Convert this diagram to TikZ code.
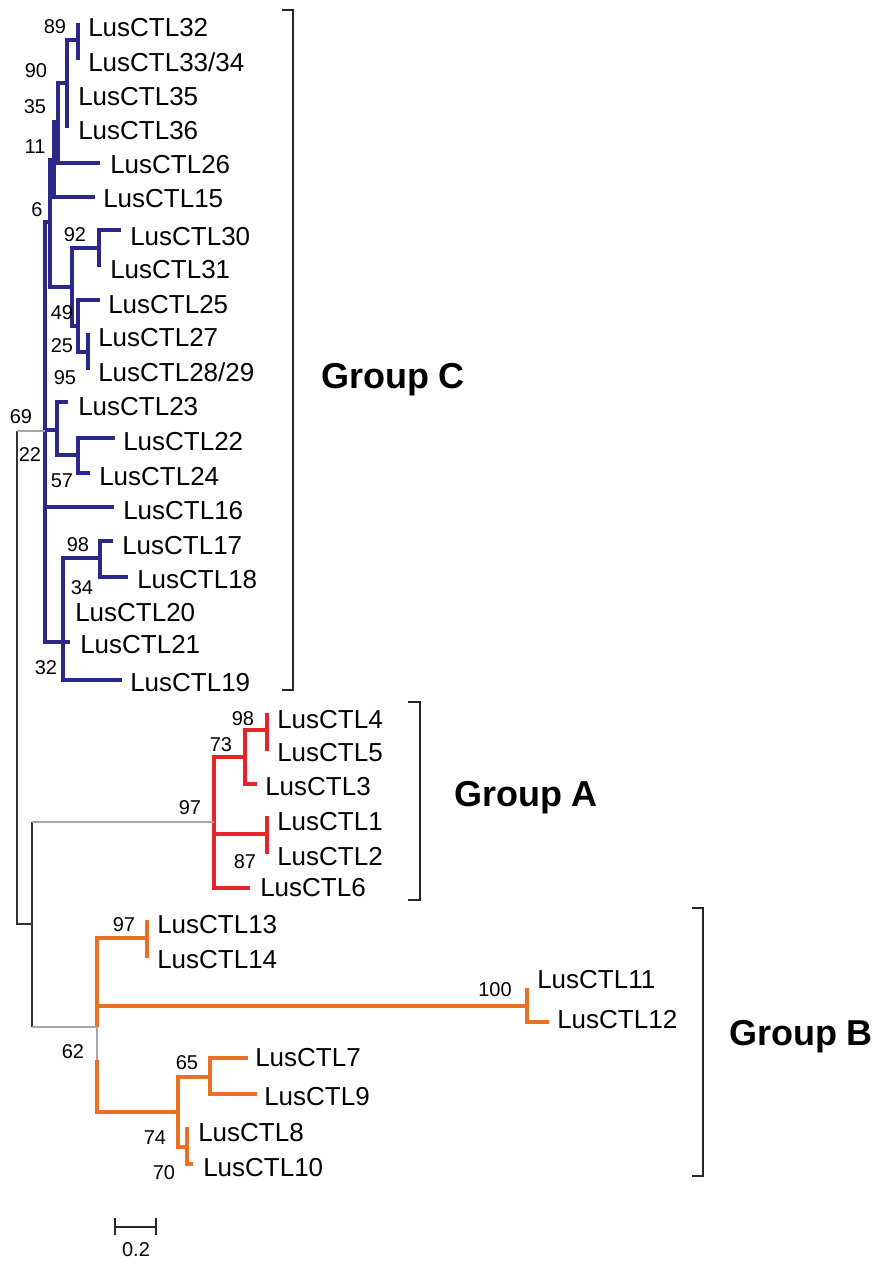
\documentclass[tikz,border=0pt]{standalone}
\usepackage{fontspec}
\setmainfont{Liberation Sans}
\usepackage{tikz}

\definecolor{grpC}{RGB}{42,40,136}
\definecolor{grpA}{RGB}{228,38,42}
\definecolor{grpB}{RGB}{236,112,36}

\begin{document}
\begin{tikzpicture}[x=0.75pt, y=-0.75pt,
    cbr/.style={draw=grpC, line width=3pt},
    abr/.style={draw=grpA, line width=3pt},
    bbr/.style={draw=grpB, line width=3pt},
    rootbr/.style={draw=black!80, line width=2pt},
    greybr/.style={draw=black!35, line width=1.1pt},
    brk/.style={draw=black!85, line width=1.8pt},
    leaf/.style={anchor=west, inner sep=0pt, font=\fontsize{19.5}{20}\selectfont},
    boot/.style={inner sep=0pt, font=\fontsize{15}{16}\selectfont},
    grp/.style={font=\fontsize{27}{30}\selectfont\bfseries}]
    \useasboundingbox (0,0) rectangle (877,1265);

    % Group C
    \coordinate (t32) at (78,23);   \coordinate (t33) at (78,60);   \coordinate (n89) at (78,40);
    \coordinate (n90) at (67,83);   \coordinate (t36) at (67,128);
    \coordinate (nB) at (58,122);   \coordinate (t26) at (100,163);
    \coordinate (nC) at (54,160);   \coordinate (t15) at (95,197);
    \coordinate (nD) at (50,222);   \coordinate (n72) at (72,287);
    \coordinate (n92) at (99,248);  \coordinate (t30) at (121,230); \coordinate (t31) at (99,267);
    \coordinate (n49) at (78,326);  \coordinate (t25) at (100,300);
    \coordinate (n95) at (88,352);  \coordinate (t27) at (88,333);  \coordinate (t28) at (88,370);
    \coordinate (nG) at (45,431);
    \coordinate (n57) at (57,430);  \coordinate (t23) at (68,402);
    \coordinate (n22) at (78,455);  \coordinate (t22) at (115,438); \coordinate (t24) at (90,473);
    \coordinate (t16) at (114,507);
    \coordinate (n32) at (63,642);  \coordinate (t19) at (122,680); \coordinate (t21) at (70,642);
    \coordinate (n98) at (100,558); \coordinate (t17) at (113,541); \coordinate (t18) at (128,577);

    \draw[cbr] (n89) |- (t32);  \draw[cbr] (n89) |- (t33);
    \draw[cbr] (n90) |- (n89);  \draw[cbr] (n90) |- (t36);
    \draw[cbr] (nB) |- (n90);   \draw[cbr] (nB) |- (t26);
    \draw[cbr] (nC) |- (nB);    \draw[cbr] (nC) |- (t15);
    \draw[cbr] (nD) |- (nC);    \draw[cbr] (nD) |- (n72);
    \draw[cbr] (n72) |- (n92);  \draw[cbr] (n72) |- (n49);
    \draw[cbr] (n92) |- (t30);  \draw[cbr] (n92) |- (t31);
    \draw[cbr] (n49) |- (t25);  \draw[cbr] (n49) |- (n95);
    \draw[cbr] (n95) |- (t27);  \draw[cbr] (n95) |- (t28);
    \draw[cbr] (nG) |- (nD);    \draw[cbr] (nG) |- (n57);
    \draw[cbr] (nG) |- (t16);   \draw[cbr] (nG) |- (n32);
    \draw[cbr] (n57) |- (t23);  \draw[cbr] (n57) |- (n22);
    \draw[cbr] (n22) |- (t22);  \draw[cbr] (n22) |- (t24);
    \draw[cbr] (n32) |- (n98);  \draw[cbr] (n32) |- (t19);  \draw[cbr] (n32) -- (t21);
    \draw[cbr] (n98) |- (t17);  \draw[cbr] (n98) |- (t18);

    % Group A
    \coordinate (gA) at (214,822);
    \coordinate (n73) at (245,757);  \coordinate (t6) at (250,888);  \coordinate (n87) at (267,834);
    \coordinate (nA98) at (267,730); \coordinate (t3) at (257,784);
    \coordinate (t4) at (267,713);   \coordinate (t5) at (267,751);
    \coordinate (t1) at (267,816);   \coordinate (t2) at (267,854);

    \draw[abr] (gA) |- (n73);   \draw[abr] (gA) |- (n87);   \draw[abr] (gA) |- (t6);
    \draw[abr] (n73) |- (nA98); \draw[abr] (n73) |- (t3);
    \draw[abr] (nA98) |- (t4);  \draw[abr] (nA98) |- (t5);
    \draw[abr] (n87) |- (t1);   \draw[abr] (n87) |- (t2);

    % Group B
    \coordinate (gB) at (97,1027);    \coordinate (gBlow) at (97,1060);
    \coordinate (nB97) at (147,938);  \coordinate (t13) at (147,920);  \coordinate (t14) at (147,958);
    \coordinate (nB100) at (527,1006); \coordinate (t11) at (527,988); \coordinate (t12) at (549,1022);
    \coordinate (n178) at (178,1112);
    \coordinate (n65) at (210,1077); \coordinate (t7) at (248,1058);   \coordinate (t9) at (257,1094);
    \coordinate (n74) at (187,1147); \coordinate (t8) at (187,1127);   \coordinate (t10) at (193,1164);

    \draw[bbr] (gB) |- (nB97);   \draw[bbr] (gB) |- (nB100);
    \draw[greybr] (gB) -- (gBlow);
    \draw[bbr] (gBlow) |- (n178);
    \draw[bbr] (nB97) |- (t13);  \draw[bbr] (nB97) |- (t14);
    \draw[bbr] (nB100) |- (t11); \draw[bbr] (nB100) |- (t12);
    \draw[bbr] (n178) |- (n65);  \draw[bbr] (n178) |- (n74);
    \draw[bbr] (n65) |- (t7);    \draw[bbr] (n65) |- (t9);
    \draw[bbr] (n74) |- (t8);    \draw[bbr] (n74) |- (t10);

    % root
    \coordinate (root) at (17,677);
    \coordinate (r2) at (32,924);
    \draw[rootbr] (root |- nG) -- (root |- r2) -- (r2);
    \draw[rootbr] (r2 |- gA) -- (r2 |- gB);
    \draw[greybr] (root |- nG) -- (nG);
    \draw[greybr] (r2 |- gA) -- (gA);
    \draw[greybr] (r2 |- gB) -- (gB);

    % leaf labels
    \node[leaf] (l32) at (88,28) {LusCTL32};
    \node[leaf] (l33) at (88,62) {LusCTL33/34};
    \node[leaf] (l35) at (78,97) {LusCTL35};
    \node[leaf] (l36) at (78,131) {LusCTL36};
    \node[leaf] (l26) at (110,165) {LusCTL26};
    \node[leaf] (l15) at (103,199) {LusCTL15};
    \node[leaf] (l30) at (130,237) {LusCTL30};
    \node[leaf] (l31) at (110,270) {LusCTL31};
    \node[leaf] (l25) at (108,305) {LusCTL25};
    \node[leaf] (l27) at (98,338) {LusCTL27};
    \node[leaf] (l28) at (98,372) {LusCTL28/29};
    \node[leaf] (l23) at (78,407) {LusCTL23};
    \node[leaf] (l22) at (123,442) {LusCTL22};
    \node[leaf] (l24) at (99,477) {LusCTL24};
    \node[leaf] (l16) at (123,511) {LusCTL16};
    \node[leaf] (l17) at (122,546) {LusCTL17};
    \node[leaf] (l18) at (137,580) {LusCTL18};
    \node[leaf] (l20) at (75,613) {LusCTL20};
    \node[leaf] (l21) at (80,645) {LusCTL21};
    \node[leaf] (l19) at (130,683) {LusCTL19};
    \node[leaf] (l4) at (277,720) {LusCTL4};
    \node[leaf] (l5) at (277,753) {LusCTL5};
    \node[leaf] (l3) at (265,787) {LusCTL3};
    \node[leaf] (l1) at (277,822) {LusCTL1};
    \node[leaf] (l2) at (277,857) {LusCTL2};
    \node[leaf] (l6) at (260,888) {LusCTL6};
    \node[leaf] (l13) at (157,925) {LusCTL13};
    \node[leaf] (l14) at (157,960) {LusCTL14};
    \node[leaf] (l11) at (537,980) {LusCTL11};
    \node[leaf] (l12) at (557,1020) {LusCTL12};
    \node[leaf] (l7) at (255,1058) {LusCTL7};
    \node[leaf] (l9) at (264,1097) {LusCTL9};
    \node[leaf] (l8) at (198,1133) {LusCTL8};
    \node[leaf] (l10) at (203,1168) {LusCTL10};

    % bootstrap values
    \node[boot] (b89) at (55,27) {89};
    \node[boot] (b90) at (36,71) {90};
    \node[boot] (b35) at (35,107) {35};
    \node[boot] (b11) at (35,147) {11};
    \node[boot] (b6) at (37,210) {6};
    \node[boot] (b92) at (75,235) {92};
    \node[boot] (b49) at (62,313) {49};
    \node[boot] (b25) at (62,346) {25};
    \node[boot] (b95) at (65,378) {95};
    \node[boot] (b69) at (21,417) {69};
    \node[boot] (b22) at (30,455) {22};
    \node[boot] (b57) at (62,481) {57};
    \node[boot] (b98c) at (78,545) {98};
    \node[boot] (b34) at (82,588) {34};
    \node[boot] (b32) at (46,668) {32};
    \node[boot] (b98a) at (243,719) {98};
    \node[boot] (b73) at (221,745) {73};
    \node[boot] (b97a) at (190,808) {97};
    \node[boot] (b87) at (245,862) {87};
    \node[boot] (b97b) at (124,925) {97};
    \node[boot] (b100) at (495,990) {100};
    \node[boot] (b62) at (73,1052) {62};
    \node[boot] (b65) at (187,1063) {65};
    \node[boot] (b74) at (155,1138) {74};
    \node[boot] (b70) at (164,1173) {70};

    % brackets and group names
    \draw[brk] (282,10) -- (293,10) -- (293,690) -- (282,690);
    \draw[brk] (408,702) -- (420,702) -- (420,900) -- (408,900);
    \draw[brk] (692,908) -- (703,908) -- (703,1176) -- (692,1176);
    \node[grp] (grpC) at (393,380) {Group C};
    \node[grp] (grpA) at (526,798) {Group A};
    \node[grp] (grpB) at (801,1037) {Group B};

    % scale bar
    \draw[brk, line width=1.5pt] (115,1218) -- (115,1235) (115,1227) -- (156,1227) (156,1218) -- (156,1235);
    \node[boot] (scale) at (136,1250) {0.2};
\end{tikzpicture}
\end{document}
